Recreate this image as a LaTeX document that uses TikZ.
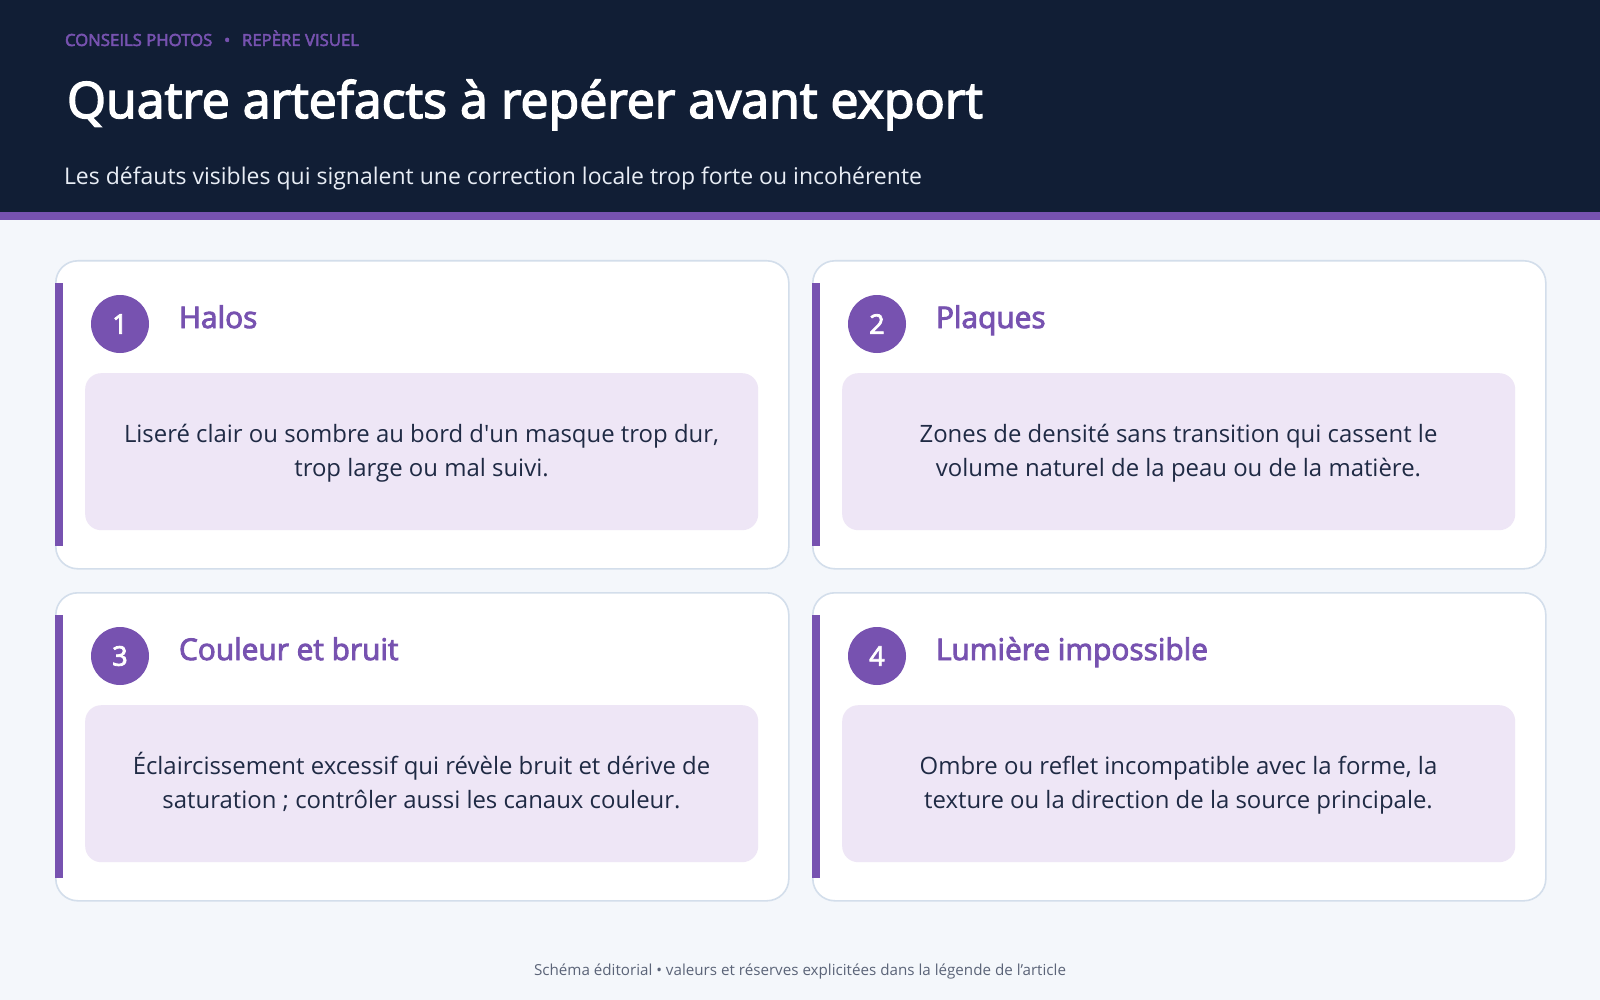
\documentclass[tikz,border=0pt]{standalone}
\usepackage{fontspec}
\setmainfont{Open Sans}
\newfontfamily\semib[FakeBold=3]{Open Sans}
\definecolor{navy}{HTML}{111E35}
\definecolor{purp}{HTML}{7752B0}
\definecolor{lilac}{HTML}{EEE6F6}
\definecolor{bgc}{HTML}{F4F7FB}
\definecolor{cardline}{HTML}{D3DEEB}
\definecolor{bodyc}{HTML}{1F2A44}
\definecolor{footc}{HTML}{5B6478}
\definecolor{subc}{HTML}{E8EDF5}
\newlength\fitlen
\newcommand\fitbox[3]{%
  \settowidth\fitlen{#2\fontsize{20pt}{24pt}\selectfont #3}%
  \pgfmathsetmacro\fitsize{#1/\fitlen*20}%
  {#2\fontsize{\fitsize pt}{\fitsize pt}\selectfont #3}}
\tikzset{
  txt/.style={inner sep=0pt, outer sep=0pt},
  cardbox/.style={draw=cardline, line width=1.6pt, fill=white, rounded corners=22pt,
    minimum width=733pt, minimum height=308pt, anchor=north west, inner sep=0pt},
  inbox/.style={fill=lilac, rounded corners=16pt, minimum width=673pt,
    minimum height=157pt, anchor=north west, inner sep=0pt},
  numc/.style={circle, fill=purp, minimum size=58pt, inner sep=0pt, text=white,
    font=\semib\fontsize{27pt}{27pt}\selectfont},
}
\newcommand\card[7]{%
  \node[cardbox] (card#1) at (#2,#3) {};
  \fill[purp] (#2,#3+23) rectangle (#2+8,#3+286);
  \node[numc] (num#1) at (#2+65,#3+64) {#4};
  \node[txt, anchor=base west, text=purp, font=\semib\fontsize{\csize pt}{\csize pt}\selectfont]
    (title#1) at (#2+124,#3+68) {#5};
  \node[inbox] (box#1) at (#2+30,#3+113) {};
  \node[txt, anchor=base, text=bodyc, font=\fontsize{\bsize pt}{\bsize pt}\selectfont]
    (la#1) at (#2+366.5,#3+182) {#6};
  \node[txt, anchor=base, text=bodyc, font=\fontsize{\bsize pt}{\bsize pt}\selectfont]
    (lb#1) at (#2+366.5,#3+216) {#7};
}
\begin{document}
\settowidth\fitlen{\semib\fontsize{20pt}{24pt}\selectfont Lumière impossible}%
\pgfmathsetmacro\csize{272/\fitlen*20}%
\settowidth\fitlen{\fontsize{20pt}{24pt}\selectfont Liseré clair ou sombre au bord d\textquotesingle un masque trop dur,}%
\pgfmathsetmacro\bsize{595/\fitlen*20}%
\begin{tikzpicture}[x=1pt,y=-1pt]
\useasboundingbox (0,0) rectangle (1600,1000);
\fill[bgc] (0,0) rectangle (1600,1000);
\fill[navy] (0,0) rectangle (1600,212);
\fill[purp] (0,212) rectangle (1600,220);
\node[txt, anchor=base west, text=purp] (cat) at (65,46)
  {\fitbox{294}{\semib}{CONSEILS PHOTOS\hspace{0.7em}•\hspace{0.7em}REPÈRE VISUEL}};
\node[txt, anchor=base west, text=white] (title) at (67,118)
  {\fitbox{916}{\semib}{Quatre artefacts à repérer avant export}};
\node[txt, anchor=base west, text=subc] (subtitle) at (64,185)
  {\fitbox{858}{}{Les défauts visibles qui signalent une correction locale trop forte ou incohérente}};
\card{1}{55}{260}{1}{Halos}{Liseré clair ou sombre au bord d\textquotesingle un masque trop dur,}{trop large ou mal suivi.}
\card{2}{812}{260}{2}{Plaques}{Zones de densité sans transition qui cassent le}{volume naturel de la peau ou de la matière.}
\card{3}{55}{592}{3}{Couleur et bruit}{Éclaircissement excessif qui révèle bruit et dérive de}{saturation ; contrôler aussi les canaux couleur.}
\card{4}{812}{592}{4}{Lumière impossible}{Ombre ou reflet incompatible avec la forme, la}{texture ou la direction de la source principale.}
\node[txt, anchor=base, text=footc] (footer) at (800,975)
  {\fitbox{532}{}{Schéma éditorial • valeurs et réserves explicitées dans la légende de l’article}};
\end{tikzpicture}
\end{document}
